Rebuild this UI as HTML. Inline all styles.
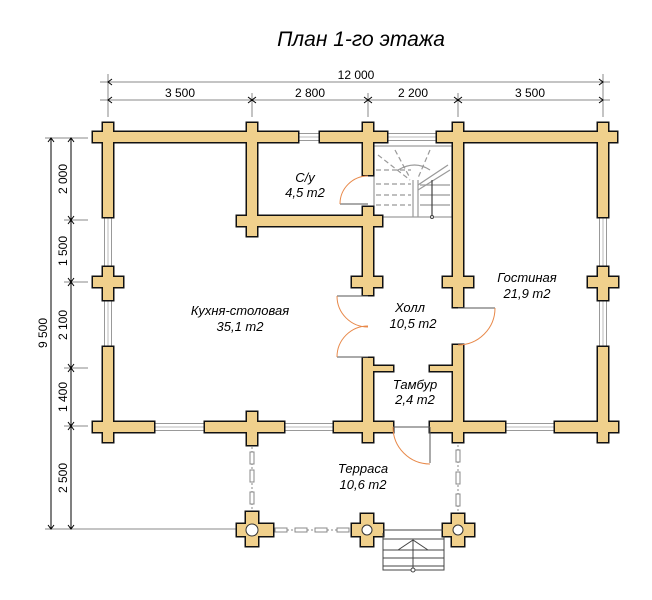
<!DOCTYPE html>
<html><head><meta charset="utf-8"><style>
html,body{margin:0;padding:0;background:#fff}
svg{display:block}
text{font-family:"Liberation Sans",sans-serif}
</style></head><body>
<svg width="652" height="600" viewBox="0 0 652 600" xmlns="http://www.w3.org/2000/svg">
<defs>
<g id="walls">
<rect x="93" y="132" width="205" height="10"/>
<rect x="320" y="132" width="67" height="10"/>
<rect x="437" y="132" width="180" height="10"/>
<rect x="103" y="123" width="10" height="94"/>
<rect x="247" y="123" width="10" height="113"/>
<rect x="363" y="123" width="10" height="52"/>
<rect x="453" y="123" width="10" height="184"/>
<rect x="598" y="123" width="10" height="94"/>
<rect x="237" y="216" width="145" height="10"/>
<rect x="363" y="207" width="10" height="88"/>
<rect x="352" y="277" width="30" height="10"/>
<rect x="93" y="277" width="30" height="10"/>
<rect x="103" y="267" width="10" height="33"/>
<rect x="103" y="347" width="10" height="95"/>
<rect x="588" y="277" width="30" height="10"/>
<rect x="598" y="267" width="10" height="33"/>
<rect x="598" y="347" width="10" height="95"/>
<rect x="443" y="277" width="30" height="10"/>
<rect x="93" y="422" width="61" height="10"/>
<rect x="205" y="422" width="79" height="10"/>
<rect x="247" y="412" width="10" height="33"/>
<rect x="334" y="422" width="59" height="10"/>
<rect x="363" y="358" width="10" height="84"/>
<rect x="373" y="366" width="20" height="5"/>
<rect x="430" y="422" width="75" height="10"/>
<rect x="453" y="345" width="10" height="97"/>
<rect x="430" y="366" width="23" height="5"/>
<rect x="555" y="422" width="62" height="10"/>
<rect x="588" y="422" width="30" height="10"/>
<rect x="598" y="412" width="10" height="30"/>
<rect x="237" y="524" width="36" height="12"/><rect x="246" y="512" width="12" height="34"/>
<rect x="352" y="524" width="31" height="12"/><rect x="361" y="514" width="12" height="32"/>
<rect x="443" y="524" width="31" height="12"/><rect x="452" y="514" width="12" height="32"/>
</g>
</defs>
<text x="361" y="46" font-size="21" font-style="italic" text-anchor="middle">План 1-го этажа</text>
<g stroke="#888" stroke-width="1" fill="none">
<line x1="100" y1="82" x2="610" y2="82"/>
<line x1="100" y1="100" x2="610" y2="100"/>
<line x1="108" y1="74" x2="108" y2="117"/>
<line x1="252" y1="93" x2="252" y2="117"/>
<line x1="368" y1="93" x2="368" y2="117"/>
<line x1="458" y1="93" x2="458" y2="117"/>
<line x1="603" y1="74" x2="603" y2="117"/>
<line x1="45" y1="138" x2="88" y2="138"/>
<line x1="45" y1="529" x2="240" y2="529"/>
<line x1="64" y1="220" x2="88" y2="220"/>
<line x1="64" y1="282" x2="88" y2="282"/>
<line x1="64" y1="368" x2="88" y2="368"/>
<line x1="64" y1="426" x2="88" y2="426"/>
</g>
<g stroke="#000" stroke-width="1" fill="none">
<line x1="51" y1="138" x2="51" y2="529"/>
<line x1="71" y1="138" x2="71" y2="529"/>
<path d="M112 79 L108 82 L112 85 M599 79 L603 82 L599 85"/>
<path d="M112 97 L108 100 L112 103 M248 97 L252 100 L248 103 M256 97 L252 100 L256 103 M364 97 L368 100 L364 103 M372 97 L368 100 L372 103 M454 97 L458 100 L454 103 M462 97 L458 100 L462 103 M599 97 L603 100 L599 103"/>
<path d="M48 142 L51 138 L54 142 M48 525 L51 529 L54 525"/>
<path d="M68 142 L71 138 L74 142 M68 216 L71 220 L74 216 M68 224 L71 220 L74 224 M68 278 L71 282 L74 278 M68 286 L71 282 L74 286 M68 364 L71 368 L74 364 M68 372 L71 368 L74 372 M68 422 L71 426 L74 422 M68 430 L71 426 L74 430 M68 525 L71 529 L74 525"/>
</g>
<g font-size="12" text-anchor="middle">
<text x="356" y="79">12 000</text>
<text x="180" y="97">3 500</text>
<text x="310" y="97">2 800</text>
<text x="413" y="97">2 200</text>
<text x="530" y="97">3 500</text>
<text transform="translate(67,179) rotate(-90)">2 000</text>
<text transform="translate(67,251) rotate(-90)">1 500</text>
<text transform="translate(67,325) rotate(-90)">2 100</text>
<text transform="translate(67,397) rotate(-90)">1 400</text>
<text transform="translate(67,478) rotate(-90)">2 500</text>
<text transform="translate(47,333) rotate(-90)">9 500</text>
</g>
<g fill="#fff" stroke="#999" stroke-width="1">
<rect x="298" y="133.5" width="22" height="7"/>
<rect x="387" y="133.5" width="50" height="7"/>
<rect x="104.5" y="217" width="7" height="50"/>
<rect x="104.5" y="300" width="7" height="47"/>
<rect x="599.5" y="217" width="7" height="50"/>
<rect x="599.5" y="300" width="7" height="47"/>
<rect x="154" y="423.5" width="51" height="7"/>
<rect x="284" y="423.5" width="50" height="7"/>
<rect x="505" y="423.5" width="50" height="7"/>
</g>
<g stroke="#bbb" stroke-width="1">
<line x1="298" y1="137" x2="320" y2="137"/><line x1="387" y1="137" x2="437" y2="137"/>
<line x1="108" y1="217" x2="108" y2="267"/><line x1="108" y1="300" x2="108" y2="347"/>
<line x1="603" y1="217" x2="603" y2="267"/><line x1="603" y1="300" x2="603" y2="347"/>
<line x1="154" y1="427" x2="205" y2="427"/><line x1="284" y1="427" x2="334" y2="427"/><line x1="505" y1="427" x2="555" y2="427"/>
</g>
<g stroke="#999" stroke-width="1.2" fill="none">
<rect x="374" y="146" width="78" height="71" fill="#fff"/>
<line x1="413" y1="180" x2="413" y2="217"/><line x1="418" y1="180" x2="418" y2="217"/>
<line x1="376" y1="170" x2="411" y2="170" stroke-dasharray="5 3"/>
<line x1="376" y1="184" x2="411" y2="184" stroke-dasharray="5 3"/>
<line x1="376" y1="195" x2="411" y2="195" stroke-dasharray="5 3"/>
<line x1="376" y1="205" x2="411" y2="205" stroke-dasharray="5 3"/>
<line x1="420" y1="195" x2="450" y2="195"/><line x1="420" y1="205" x2="450" y2="205"/><line x1="420" y1="185" x2="450" y2="185"/>
<line x1="418" y1="185" x2="448" y2="165"/><line x1="418" y1="190" x2="450" y2="170"/>
<line x1="395" y1="150" x2="410" y2="178" stroke-dasharray="5 3"/>
<line x1="430" y1="150" x2="418" y2="178" stroke-dasharray="5 3"/>
<line x1="378" y1="155" x2="410" y2="180" stroke-dasharray="5 3"/>
<path d="M398 170 Q415 160 430 170"/>
<line x1="432" y1="180" x2="432" y2="217" stroke="#444"/>
</g>
<circle cx="432" cy="217" r="1.5" fill="#fff" stroke="#444"/>
<g stroke="#111" stroke-width="3" fill="#111"><use href="#walls"/></g>
<g fill="#f0d08c"><use href="#walls"/></g>
<g fill="#fff" stroke="#333" stroke-width="1">
<circle cx="252" cy="530" r="6"/><circle cx="367" cy="530" r="5"/><circle cx="458" cy="530" r="5"/>
</g>
<g stroke="#888" stroke-width="1" fill="#fff">
<line x1="252" y1="447" x2="252" y2="511" stroke-dasharray="2 2"/>
<line x1="458" y1="445" x2="458" y2="513" stroke-dasharray="2 2"/>
<line x1="275" y1="530" x2="351" y2="530" stroke-dasharray="2 2"/>
<rect x="250" y="452" width="4" height="12"/><rect x="250" y="470" width="4" height="12"/><rect x="250" y="492" width="4" height="12"/>
<rect x="456" y="450" width="4" height="12"/><rect x="456" y="472" width="4" height="12"/><rect x="456" y="494" width="4" height="12"/>
<rect x="275" y="528" width="12" height="4"/><rect x="295" y="528" width="12" height="4"/><rect x="315" y="528" width="12" height="4"/><rect x="337" y="528" width="12" height="4"/>
</g>
<g stroke="#444" stroke-width="1" fill="none">
<line x1="383" y1="530" x2="443" y2="530"/>
<path d="M383 533 V570 H444 V536"/>
<line x1="383" y1="539" x2="444" y2="539"/>
<line x1="383" y1="550" x2="444" y2="550"/>
<line x1="383" y1="558" x2="444" y2="558"/>
<line x1="383" y1="566" x2="444" y2="566"/>
<path d="M398 550 L413 540 L428 550 M413 540 V570"/>
</g>
<circle cx="413" cy="570" r="2" fill="#fff" stroke="#444"/>
<g stroke="#555" stroke-width="1" fill="none">
<line x1="340" y1="204" x2="368" y2="204"/>
<line x1="337" y1="296" x2="368" y2="296"/>
<line x1="337" y1="357" x2="368" y2="357"/>
<line x1="458" y1="308" x2="495" y2="308"/>
<line x1="393" y1="427" x2="430" y2="427"/>
<line x1="430" y1="427" x2="430" y2="463"/>
</g>
<g stroke="#e8894a" stroke-width="1" fill="none">
<path d="M340 204 A28 28 0 0 1 368 176"/>
<path d="M337 296 A31 31 0 0 0 368 327"/>
<path d="M337 357 A31 31 0 0 1 368 326"/>
<path d="M495 308 A37 37 0 0 1 458 345"/>
<path d="M393 427 A37 37 0 0 0 430 464"/>
</g>
<g font-size="13" font-style="italic" text-anchor="middle">
<text x="305" y="182">С/у</text><text x="305" y="197">4,5 m2</text>
<text x="240" y="315">Кухня-столовая</text><text x="240" y="331">35,1 m2</text>
<text x="410" y="312">Холл</text><text x="413" y="328">10,5 m2</text>
<text x="527" y="282">Гостиная</text><text x="527" y="298">21,9 m2</text>
<text x="415" y="389">Тамбур</text><text x="415" y="404">2,4 m2</text>
<text x="363" y="473">Терраса</text><text x="363" y="489">10,6 m2</text>
</g>
</svg>
</body></html>
